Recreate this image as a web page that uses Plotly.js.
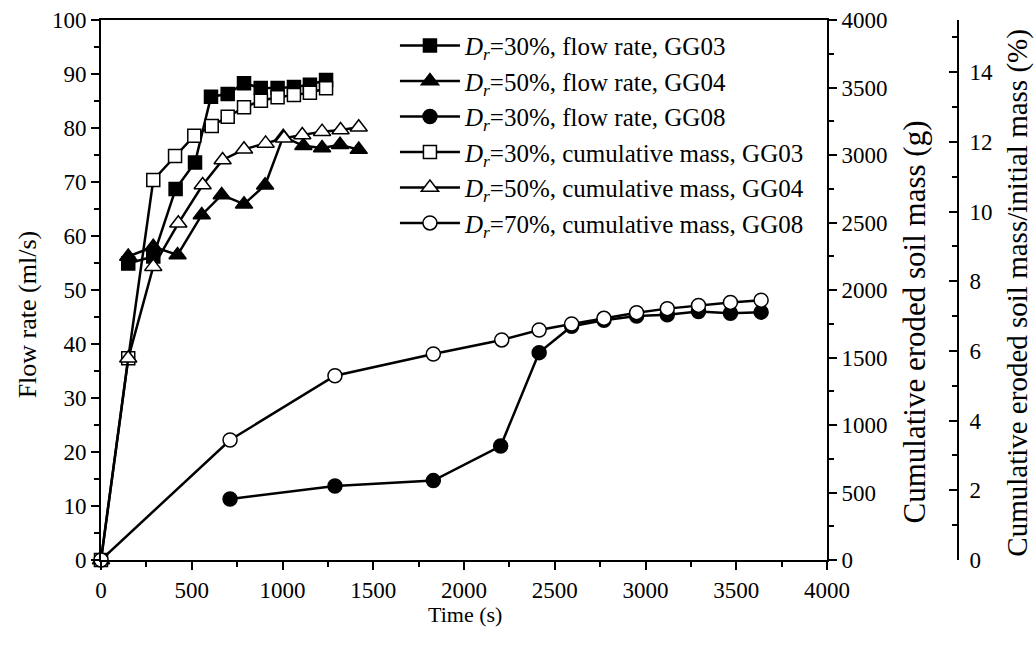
<!DOCTYPE html>
<html>
<head>
<meta charset="utf-8">
<script src="https://cdn.plot.ly/plotly-3.0.1.min.js"></script>
<style>html,body{margin:0;padding:0;background:#fff;}#chart{width:1035px;height:647px;}</style>
</head>
<body>
<div id="chart"></div>
<script>
// Flow rate (ml/s) series
const t_gg03_flow = [150, 288, 411, 518, 606, 698, 788, 880, 973, 1063, 1151, 1240];
const q_gg03_flow = [54.9, 56.2, 68.7, 73.6, 85.8, 86.3, 88.3, 87.4, 87.4, 87.6, 88.0, 88.9];

const t_gg04_flow = [150, 288, 422, 555, 665, 788, 904, 1004, 1115, 1218, 1317, 1420];
const q_gg04_flow = [56.2, 58.0, 56.5, 63.9, 67.6, 65.9, 69.4, 78.4, 76.7, 76.3, 76.9, 76.0];

const t_gg08_flow = [711, 1289, 1831, 2202, 2414, 2593, 2771, 2951, 3120, 3292, 3468, 3637];
const q_gg08_flow = [11.3, 13.7, 14.7, 21.1, 38.4, 43.3, 44.4, 45.2, 45.4, 46.0, 45.7, 45.9];

// Cumulative eroded soil mass (g) series
const t_gg03_mass = [0, 150, 288, 408, 514, 610, 698, 788, 881, 973, 1063, 1151, 1240];
const m_gg03_mass = [0, 1494, 2815, 2993, 3143, 3215, 3284, 3353, 3402, 3427, 3444, 3461, 3494];

const t_gg04_mass = [0, 150, 288, 426, 560, 670, 788, 907, 1008, 1109, 1218, 1320, 1420];
const m_gg04_mass = [0, 1494, 2173, 2494, 2778, 2963, 3042, 3086, 3124, 3148, 3173, 3185, 3205];

const t_gg08_mass = [0, 711, 1289, 1831, 2208, 2414, 2593, 2771, 2951, 3120, 3292, 3468, 3637];
const m_gg08_mass = [0, 889, 1365, 1526, 1630, 1704, 1748, 1790, 1832, 1862, 1886, 1908, 1925];

const legendNames = [
  "<i>D</i><sub><i>r</i></sub>=30%, flow rate, GG03",
  "<i>D</i><sub><i>r</i></sub>=50%, flow rate, GG04",
  "<i>D</i><sub><i>r</i></sub>=30%, flow rate, GG08",
  "<i>D</i><sub><i>r</i></sub>=30%, cumulative mass, GG03",
  "<i>D</i><sub><i>r</i></sub>=50%, cumulative mass, GG04",
  "<i>D</i><sub><i>r</i></sub>=70%, cumulative mass, GG08"
];

const axisTitles = {
  x: "Time (s)",
  y: "Flow rate (ml/s)",
  y2: "Cumulative eroded soil mass (g)",
  y3: "Cumulative eroded soil mass/initial mass (%)"
};

const FONT = "Liberation Serif";
const lineStyle = {color: "#000", width: 2.5};

function tr(x, y, name, symbol, fill, size, yaxis, grp) {
  return {
    x: x, y: y, name: name, yaxis: yaxis, type: "scatter", mode: "lines+markers",
    legendgroup: grp,
    line: lineStyle, cliponaxis: false,
    marker: {symbol: symbol, size: size, color: fill, line: {color: "#000", width: 1.5}}
  };
}

const data = [
  tr(t_gg03_flow, q_gg03_flow, legendNames[0], "square", "#000", 13, "y", "g1"),
  tr(t_gg04_flow, q_gg04_flow, legendNames[1], "triangle-up", "#000", 15, "y", "g2"),
  tr(t_gg08_flow, q_gg08_flow, legendNames[2], "circle", "#000", 14, "y", "g3"),
  tr(t_gg03_mass, m_gg03_mass, legendNames[3], "square", "#fff", 13, "y2", "g4"),
  tr(t_gg04_mass, m_gg04_mass, legendNames[4], "triangle-up", "#fff", 15, "y2", "g5"),
  tr(t_gg08_mass, m_gg08_mass, legendNames[5], "circle", "#fff", 14, "y2", "g6"),
  {x: [], y: [], yaxis: "y3", type: "scatter", mode: "lines", showlegend: false, hoverinfo: "skip"}
];

const TICKSZ = 23;
const axCommon = {
  showgrid: false, zeroline: false, showline: true, linecolor: "#000", linewidth: 2,
  ticks: "outside", ticklen: 8, tickwidth: 2, tickcolor: "#000",
  tickfont: {family: FONT, size: TICKSZ, color: "#000"}
};

function titleAnn(text, x, y, size, angle) {
  return {text: text, xref: "paper", yref: "paper", x: x, y: y, xanchor: "center", yanchor: "middle",
          textangle: angle, showarrow: false, font: {family: FONT, size: size, color: "#000"}};
}

const layout = {
  width: 1035, height: 647,
  margin: {l: 101, r: 77, t: 20, b: 87},
  paper_bgcolor: "#fff", plot_bgcolor: "#fff",
  font: {family: FONT, size: 22, color: "#000"},
  showlegend: true,
  legend: {
    x: 0.343, y: 0.995, xanchor: "left", yanchor: "top",
    bgcolor: "rgba(0,0,0,0)", borderwidth: 0,
    font: {family: FONT, size: 25, color: "#000"},
    itemwidth: 60, tracegroupgap: 0, traceorder: "grouped"
  },
  xaxis: Object.assign({}, axCommon, {
    domain: [0, 726 / 857], range: [0, 4000], dtick: 500, tick0: 0,
    mirror: true,
    minor: {dtick: 250, ticks: "outside", ticklen: 5, tickwidth: 2, tickcolor: "#000"}
  }),
  yaxis: Object.assign({}, axCommon, {
    range: [0, 100], dtick: 10, tick0: 0,
    minor: {dtick: 5, ticks: "outside", ticklen: 5, tickwidth: 2, tickcolor: "#000"}
  }),
  yaxis2: Object.assign({}, axCommon, {
    overlaying: "y", side: "right", anchor: "x",
    range: [0, 4000], dtick: 500, tick0: 0,
    minor: {dtick: 250, ticks: "outside", ticklen: 5, tickwidth: 2, tickcolor: "#000"}
  }),
  yaxis3: Object.assign({}, axCommon, {
    overlaying: "y", side: "right", anchor: "free", position: 1,
    range: [0, 15.5], dtick: 2, tick0: 0, ticks: "inside", ticklabelstandoff: 6,
    minor: {dtick: 1, ticks: "inside", ticklen: 5, tickwidth: 2, tickcolor: "#000"}
  }),
  annotations: [
    titleAnn(axisTitles.x, 0.4247, -0.1, 22, 0),
    titleAnn(axisTitles.y, -0.0863, 0.455, 26, -90),
    titleAnn(axisTitles.y2, 0.9487, 0.44, 31, -90),
    titleAnn(axisTitles.y3, 1.070, 0.495, 29, -90)
  ]
};

Plotly.newPlot("chart", data, layout, {staticPlot: true, displayModeBar: false});
</script>
</body>
</html>
